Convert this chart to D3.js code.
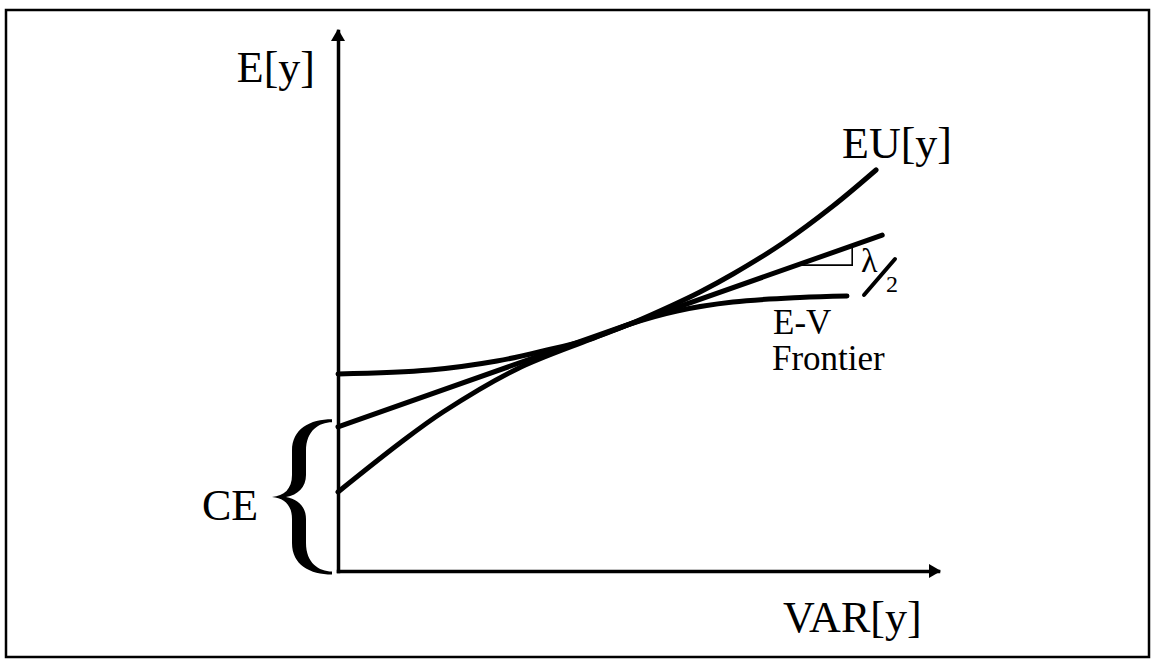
<!DOCTYPE html>
<html>
<head>
<meta charset="utf-8">
<script src="https://cdn.jsdelivr.net/npm/d3@7/dist/d3.min.js"></script>
<style>
  html, body { margin: 0; padding: 0; background: #fff; }
  svg text { font-family: "Liberation Serif", "DejaVu Serif", serif; fill: #000; }
</style>
</head>
<body>
<svg id="chart" width="1153" height="662"></svg>
<script>
// Mean-variance space: variance of y on the horizontal axis, expected value on the vertical.
const frontierVar = [0, 15.33, 26.5, 34.17, 42, 48.67, 56.5, 65.83, 77, 84.83];
const frontierE   = [36.48, 37.22, 38.89, 40.74, 42.96, 45.74, 48.15, 49.81, 50.65, 50.93];

const utilityVar = [0, 10.33, 17.5, 29.83, 42, 48.67, 55.83, 60.33, 65.83, 74.17, 82.5, 89.67];
const utilityE   = [14.63, 23.7, 29.44, 37.41, 42.87, 45.74, 49.26, 51.67, 55.0, 60.74, 67.59, 74.26];

// Tangent line: intercept is the certainty equivalent, slope is lambda/2
const tangentVar = [0, 90.7];
const tangentE   = [26.7, 62.2];

// Slope triangle drawn under the tangent line
const triangleVar = [76.5, 85.7];

const axisLabels = { x: "VAR[y]", y: "E[y]" };
const curveLabels = ["EU[y]", "E-V", "Frontier"];

const svg = d3.select("#chart");

// frame
svg.append("rect")
  .attr("x", 6).attr("y", 10)
  .attr("width", 1143).attr("height", 647)
  .attr("fill", "none").attr("stroke", "#000").attr("stroke-width", 2.5);

const x = d3.scaleLinear().domain([0, 100]).range([338, 938]);
const y = d3.scaleLinear().domain([0, 100]).range([571, 31]);

// axes without ticks: only the domain lines
const gx = svg.append("g").attr("transform", `translate(0,${y(0)})`)
  .call(d3.axisBottom(x).tickValues([]).tickSizeOuter(0));
const gy = svg.append("g").attr("transform", `translate(${x(0)},0)`)
  .call(d3.axisLeft(y).tickValues([]).tickSizeOuter(0));
[gx, gy].forEach(g => g.select(".domain")
  .attr("stroke", "#000").attr("stroke-width", 3.5).attr("stroke-linecap", "square"));

// arrowheads
const xEnd = x.range()[1], yEnd = y.range()[1];
svg.append("path")
  .attr("d", `M${xEnd + 3},${y(0)} L${xEnd - 9},${y(0) - 7} L${xEnd - 9},${y(0) + 7} Z`)
  .attr("fill", "#000");
svg.append("path")
  .attr("d", `M${x(0)},${yEnd - 2} L${x(0) - 7},${yEnd + 10} L${x(0) + 7},${yEnd + 10} Z`)
  .attr("fill", "#000");

// curves
const line = d3.line()
  .x(d => x(d[0])).y(d => y(d[1]))
  .curve(d3.curveCatmullRom.alpha(0.5));
const straight = d3.line().x(d => x(d[0])).y(d => y(d[1]));

const frontier = frontierVar.map((v, i) => [v, frontierE[i]]);
const utility  = utilityVar.map((v, i) => [v, utilityE[i]]);
const tangent  = tangentVar.map((v, i) => [v, tangentE[i]]);

const curveStyle = sel => sel.attr("fill", "none").attr("stroke", "#000")
  .attr("stroke-width", 5).attr("stroke-linecap", "round").attr("stroke-linejoin", "round");

svg.append("path").datum(frontier).attr("d", line).call(curveStyle);
svg.append("path").datum(utility).attr("d", line).call(curveStyle);
svg.append("path").datum(tangent).attr("d", straight).call(curveStyle);

// slope triangle under the tangent
const slope = (tangentE[1] - tangentE[0]) / (tangentVar[1] - tangentVar[0]);
const tangentAt = v => tangentE[0] + slope * v;
const t0 = [triangleVar[0], tangentAt(triangleVar[0])];
const t1 = [triangleVar[1], tangentAt(triangleVar[0])];
const t2 = [triangleVar[1], tangentAt(triangleVar[1])];
svg.append("path")
  .attr("d", straight([t0, t1, t2]))
  .attr("fill", "none").attr("stroke", "#000").attr("stroke-width", 1.6);

// lambda / 2
svg.append("text").attr("x", 861).attr("y", 272)
  .attr("font-size", 34).text("λ");
svg.append("line")
  .attr("x1", 864).attr("y1", 295).attr("x2", 895).attr("y2", 259)
  .attr("stroke", "#000").attr("stroke-width", 4).attr("stroke-linecap", "round");
svg.append("text").attr("x", 886).attr("y", 292)
  .attr("font-size", 24).text("2");

// axis labels
svg.append("text").attr("x", 315).attr("y", 82)
  .attr("text-anchor", "end").attr("font-size", 44).text(axisLabels.y);
svg.append("text").attr("x", 783).attr("y", 632)
  .attr("font-size", 44).text(axisLabels.x);

// curve labels
svg.append("text").attr("x", 842).attr("y", 158)
  .attr("font-size", 44).text(curveLabels[0]);
svg.append("text").attr("x", 773).attr("y", 334)
  .attr("font-size", 35).text(curveLabels[1]);
svg.append("text").attr("x", 772).attr("y", 370)
  .attr("font-size", 35).text(curveLabels[2]);

// certainty-equivalent brace spanning from the origin to the tangent's intercept
const bTop = y(tangentE[0]) - 6, bBot = y(0) + 2;
const bMid = (bTop + bBot) / 2;
const xe = x(0) - 6, xs = xe - 34, xt = xe - 60;
const bracePath = [
  `M${xe},${bTop - 1.5}`,
  `C${xe - 22},${bTop - 1.5} ${xs - 6},${bTop + 8} ${xs - 6},${bTop + 30}`,
  `L${xs - 6},${bMid - 22}`,
  `C${xs - 6},${bMid - 8} ${xs - 14},${bMid - 1} ${xt},${bMid}`,
  `C${xs - 14},${bMid + 1} ${xs - 6},${bMid + 8} ${xs - 6},${bMid + 22}`,
  `L${xs - 6},${bBot - 30}`,
  `C${xs - 6},${bBot - 8} ${xe - 22},${bBot + 1.5} ${xe},${bBot + 1.5}`,
  `L${xe},${bBot - 1.5}`,
  `C${xe - 13},${bBot - 1.5} ${xs + 8},${bBot - 10} ${xs + 8},${bBot - 30}`,
  `L${xs + 8},${bMid + 22}`,
  `C${xs + 8},${bMid + 10} ${xs},${bMid + 2} ${xt + 14},${bMid}`,
  `C${xs},${bMid - 2} ${xs + 8},${bMid - 10} ${xs + 8},${bMid - 22}`,
  `L${xs + 8},${bTop + 30}`,
  `C${xs + 8},${bTop + 10} ${xe - 13},${bTop + 1.5} ${xe},${bTop + 1.5}`,
  "Z"
].join(" ");
svg.append("path").attr("d", bracePath).attr("fill", "#000");

svg.append("text").attr("x", 202).attr("y", 520)
  .attr("font-size", 44).text("CE");
</script>
</body>
</html>
